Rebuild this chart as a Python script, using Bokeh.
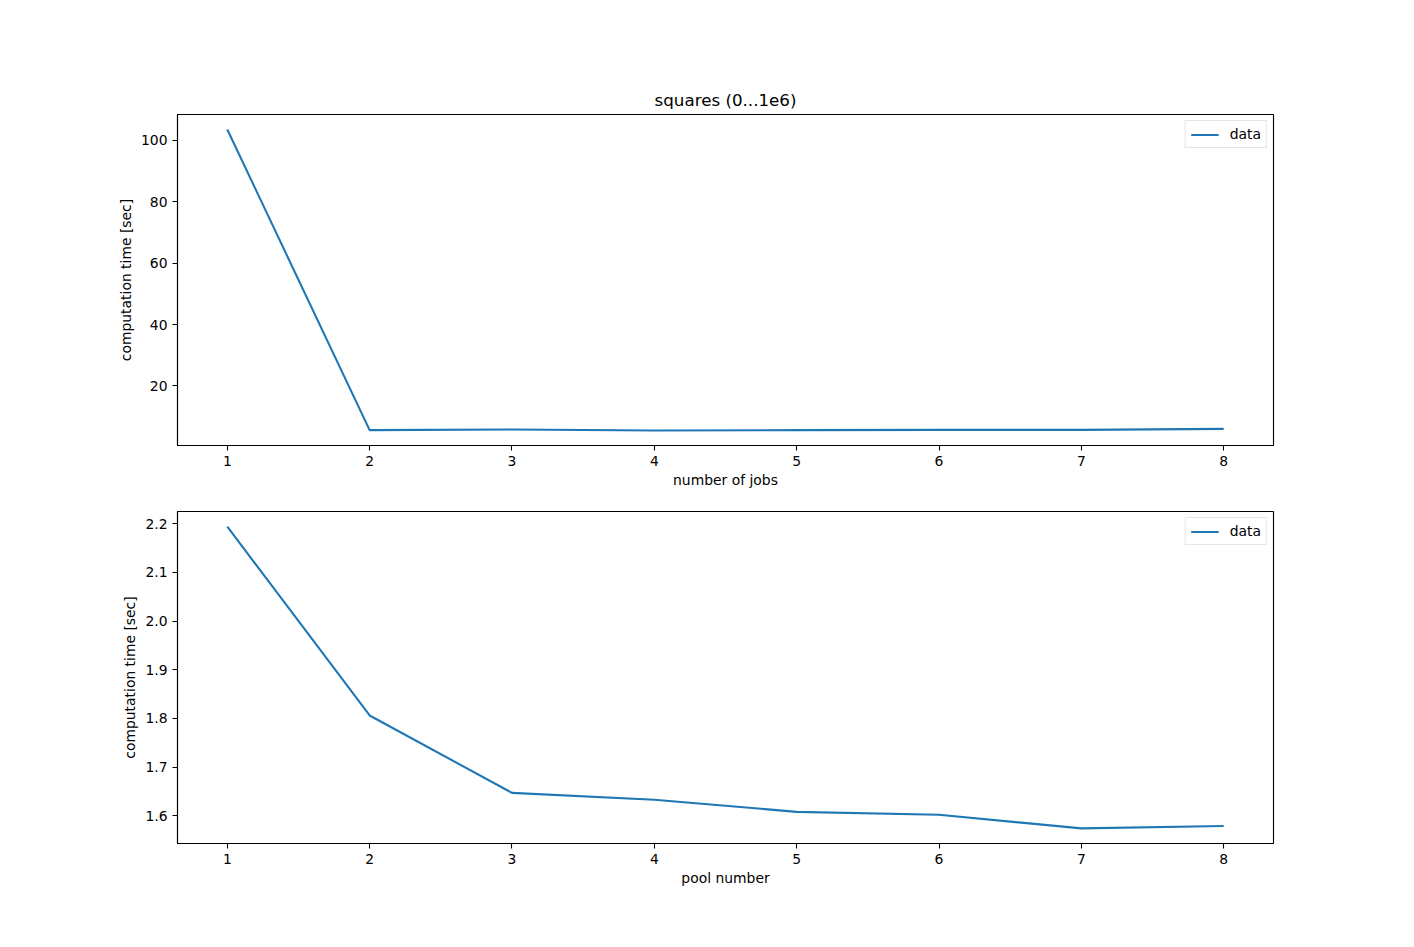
from bokeh.plotting import figure
from bokeh.layouts import column
from bokeh.models import Range1d, FixedTicker, Legend, LegendItem, NumeralTickFormatter
from bokeh.embed import file_html
from bokeh.resources import INLINE

# ---- data ----
jobs = [1, 2, 3, 4, 5, 6, 7, 8]
job_times = [103.5, 5.6, 5.8, 5.5, 5.6, 5.7, 5.7, 6.0]
pools = [1, 2, 3, 4, 5, 6, 7, 8]
pool_times = [2.194, 1.806, 1.647, 1.633, 1.608, 1.602, 1.574, 1.579]
top_yticks = [20, 40, 60, 80, 100]
bottom_yticks = [1.6, 1.7, 1.8, 1.9, 2.0, 2.1, 2.2]

TITLE = "squares (0...1e6)"
XLABEL_TOP = "number of jobs"
XLABEL_BOTTOM = "pool number"
YLABEL = "computation time [sec]"
LINE_COLOR = "#1f77b4"
FONT = "DejaVu Sans"
FS = "13.9px"


def padded(vals, frac=0.05):
    lo, hi = min(vals), max(vals)
    d = (hi - lo) * frac
    return lo - d, hi + d


def style(p, yticks):
    p.outline_line_color = "black"
    p.outline_line_width = 1.1
    p.xgrid.visible = False
    p.ygrid.visible = False
    for ax in (p.xaxis[0], p.yaxis[0]):
        ax.axis_line_color = "black"
        ax.axis_line_width = 1.1
        ax.major_tick_in = 0
        ax.major_tick_out = 5
        ax.major_tick_line_color = "black"
        ax.major_tick_line_width = 1.1
        ax.minor_tick_in = 0
        ax.minor_tick_out = 0
        ax.major_label_standoff = 5
        ax.major_label_text_font = FONT
        ax.major_label_text_font_size = FS
        ax.major_label_text_color = "black"
        ax.axis_label_text_font = FONT
        ax.axis_label_text_font_size = FS
        ax.axis_label_text_font_style = "normal"
        ax.axis_label_text_color = "black"
    p.xaxis[0].ticker = FixedTicker(ticks=jobs)
    p.yaxis[0].ticker = FixedTicker(ticks=yticks)
    p.xaxis[0].axis_label_standoff = 3
    p.yaxis[0].axis_label_standoff = 4


def add_legend(p, r):
    leg = Legend(items=[LegendItem(label="data", renderers=[r])],
                 location="top_right")
    leg.label_text_font = FONT
    leg.label_text_font_size = FS
    leg.label_text_color = "black"
    leg.border_line_color = "#cccccc"
    leg.border_line_width = 1
    leg.background_fill_alpha = 0.8
    leg.margin = 6
    leg.padding = 5
    leg.glyph_width = 28
    leg.glyph_height = 15
    leg.label_standoff = 11
    leg.label_height = 15
    leg.spacing = 0
    p.add_layout(leg)


p1 = figure(width=1398, height=497, output_backend="svg", toolbar_location=None,
            min_border_left=177, min_border_right=125, min_border_top=114,
            min_border_bottom=52, title=TITLE,
            x_range=Range1d(0.65, 8.35), y_range=Range1d(*padded(job_times)))
p1.title.align = "center"
p1.title.text_font = FONT
p1.title.text_font_size = "16.7px"
p1.title.text_font_style = "normal"
p1.title.text_color = "black"
r1 = p1.line(jobs, job_times, line_color=LINE_COLOR, line_width=2.1)
p1.xaxis.axis_label = XLABEL_TOP
p1.yaxis.axis_label = YLABEL
style(p1, top_yticks)
add_legend(p1, r1)

p2 = figure(width=1398, height=426, output_backend="svg", toolbar_location=None,
            min_border_left=177, min_border_right=125, min_border_top=14,
            min_border_bottom=80,
            x_range=Range1d(0.65, 8.35), y_range=Range1d(*padded(pool_times)))
r2 = p2.line(pools, pool_times, line_color=LINE_COLOR, line_width=2.1)
p2.xaxis.axis_label = XLABEL_BOTTOM
p2.yaxis.axis_label = YLABEL
style(p2, bottom_yticks)
p2.yaxis[0].formatter = NumeralTickFormatter(format="0.0")
add_legend(p2, r2)

layout = column(p1, p2, spacing=0)
open("out.html", "w").write(file_html(layout, INLINE))
